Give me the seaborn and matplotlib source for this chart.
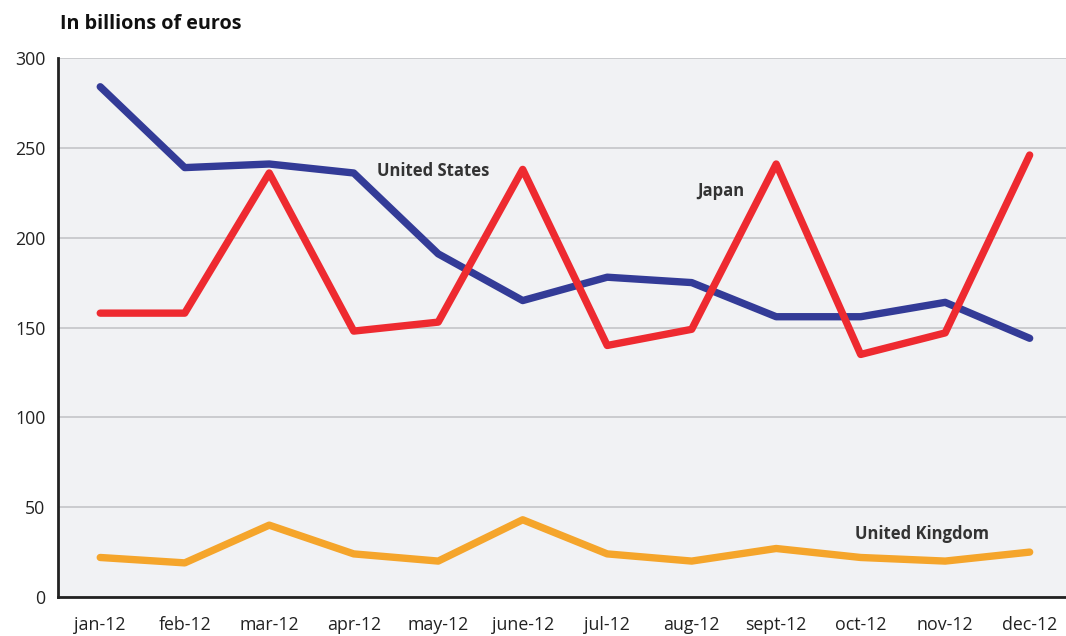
import pandas as pd
import seaborn as sns
import matplotlib.pyplot as plt

months = ["jan-12", "feb-12", "mar-12", "apr-12", "may-12", "june-12",
          "jul-12", "aug-12", "sept-12", "oct-12", "nov-12", "dec-12"]
united_states = [284, 239, 241, 236, 191, 165, 178, 175, 156, 156, 164, 144]
japan = [158, 158, 236, 148, 153, 238, 140, 149, 241, 135, 147, 246]
united_kingdom = [22, 19, 40, 24, 20, 43, 24, 20, 27, 22, 20, 25]

df = pd.DataFrame({
    "month": months * 3,
    "value": united_states + japan + united_kingdom,
    "country": ["United States"] * 12 + ["Japan"] * 12 + ["United Kingdom"] * 12,
})
colors = {"United States": "#333b97", "Japan": "#ee2a30", "United Kingdom": "#f5a52b"}

sns.set_style("white")
plt.rcParams["font.family"] = ["Open Sans", "DejaVu Sans"]

fig = plt.figure(figsize=(10.66, 6.36), dpi=100)
ax = fig.add_axes([0.0544, 0.0613, 0.9456, 0.8475])
ax.set_facecolor("#f1f2f4")

sns.lineplot(data=df, x="month", y="value", hue="country", palette=colors,
             sort=False, linewidth=5.3, legend=False, ax=ax)

ax.set_xlim(-0.5, 11.43)
ax.set_ylim(0, 300)
ax.set_yticks(range(0, 301, 50))
ax.yaxis.grid(True, color="#c4c5c8", linewidth=1.2)
ax.set_axisbelow(True)

# month labels centred, ticks at boundaries
ax.set_xticks(range(12))
ax.set_xticklabels(months, fontsize=12.8, color="#222222")
ax.tick_params(axis="x", which="major", length=0, pad=14)
ax.set_xticks([i - 0.5 for i in range(12)], minor=True)
ax.tick_params(axis="x", which="minor", length=6, width=1, color="#999999")
ax.tick_params(axis="y", length=6, width=1, color="#999999", labelsize=12.8,
               labelcolor="#222222", pad=3)
ax.set_xlabel("")
ax.set_ylabel("")

for side in ["top", "right"]:
    ax.spines[side].set_visible(False)
for side in ["left", "bottom"]:
    ax.spines[side].set_color("#222222")
    ax.spines[side].set_linewidth(2)

ax.text(3.94, 237, "United States", fontsize=12, fontweight="bold", color="#333333",
        ha="center", va="center")
ax.text(7.35, 226, "Japan", fontsize=12, fontweight="bold", color="#333333",
        ha="center", va="center")
ax.text(9.72, 35, "United Kingdom", fontsize=12, fontweight="bold", color="#333333",
        ha="center", va="center")

fig.text(0.056, 0.962, "In billions of euros", fontsize=14.2, fontweight="bold",
         color="#111111", ha="left", va="center")

fig.savefig("out.png", dpi=100)
